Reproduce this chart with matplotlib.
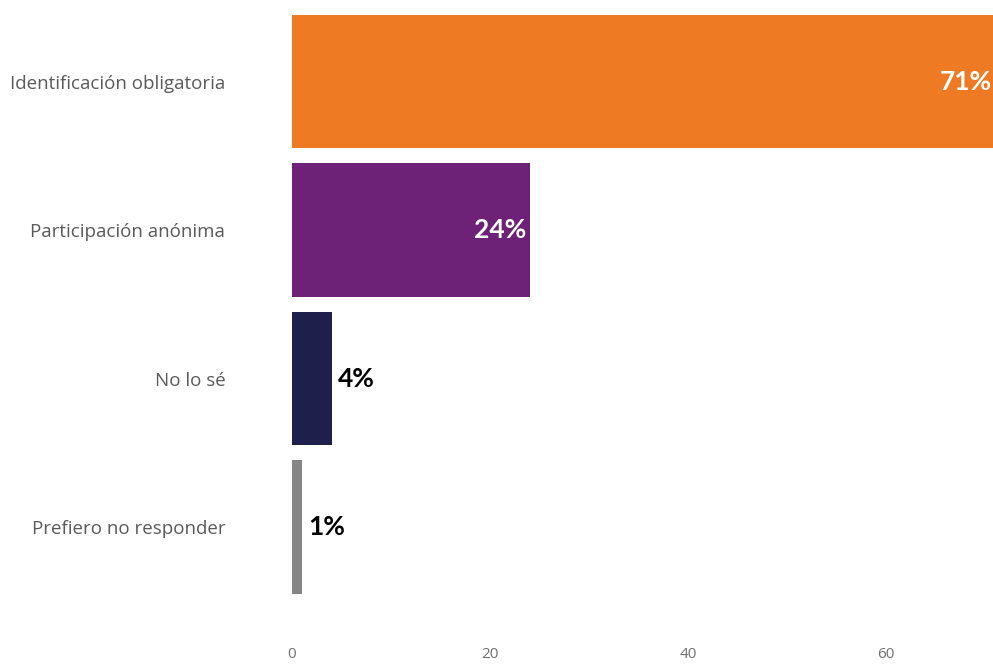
import matplotlib
matplotlib.use("Agg")
import matplotlib.pyplot as plt

categories = ["Identificación obligatoria", "Participación anónima",
              "No lo sé", "Prefiero no responder"]
values = [71, 24, 4, 1]
colors = ["#EE7A23", "#6E2277", "#1E1F4B", "#858585"]
ticks = [0, 20, 40, 60]

plt.rcParams["font.family"] = ["Lato", "DejaVu Sans"]

fig = plt.figure(figsize=(9.93, 6.64), dpi=100)
ax = fig.add_axes([292 / 993, 0.0945, 701 / 993, 0.8945])

y = list(range(len(categories)))
ax.barh(y, values, height=0.9, color=colors)
ax.set_ylim(3.5, -0.5)
ax.set_xlim(0, 70.8)

for i, v in enumerate(values):
    label = f"{v}%"
    if v > 10:
        ax.text(v - 0.3, i, label, ha="right", va="center", color="white",
                fontsize=19, fontweight="bold")
    else:
        ax.text(v + 0.6, i, label, ha="left", va="center", color="black",
                fontsize=19, fontweight="bold")

ax.set_yticks(y)
ax.set_yticklabels(categories, fontsize=13.5, color="#5a5a5a",
                   family=["Open Sans", "DejaVu Sans"])
ax.set_xticks(ticks)
ax.set_xticklabels([str(t) for t in ticks], fontsize=11, color="#707070",
                   family=["Open Sans", "DejaVu Sans"])
ax.tick_params(axis="y", length=0, pad=48)
ax.tick_params(axis="x", length=0, pad=33)
for s in ax.spines.values():
    s.set_visible(False)

fig.savefig("out.png", dpi=100)
